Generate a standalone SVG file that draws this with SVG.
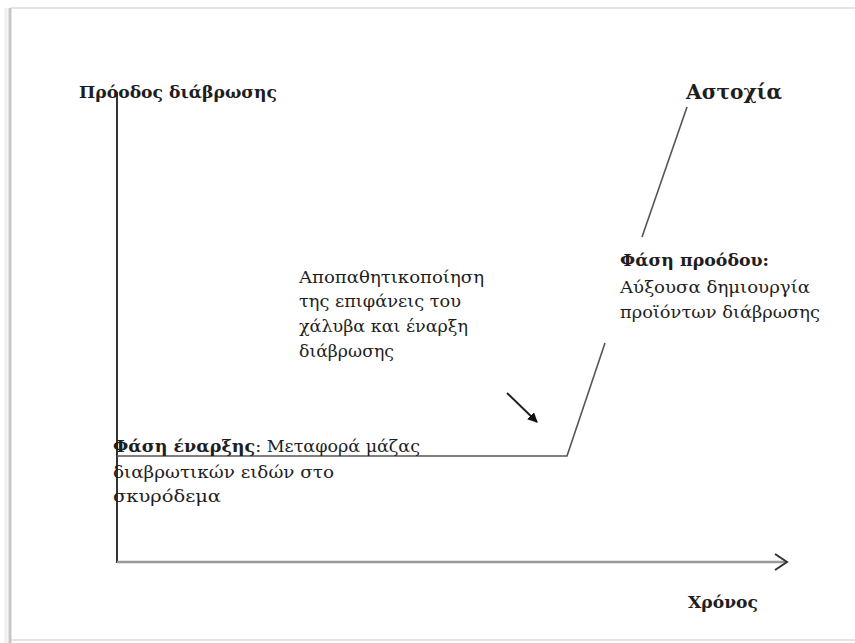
<svg xmlns="http://www.w3.org/2000/svg" width="855" height="643" viewBox="0 0 855 643">
<defs>
<style>
text{font-family:"DejaVu Serif","Liberation Serif",serif;fill:#1e1e1e}
.b{font-weight:bold}
.t{font-size:16px}
.axis{stroke:#333;stroke-width:2;fill:none}
.xaxis{stroke:#999;stroke-width:2.5;fill:none}
.curve{stroke:#555;stroke-width:1.6;fill:none}
</style>
<marker id="ah" viewBox="0 0 10 10" refX="9" refY="5" markerWidth="5" markerHeight="5" orient="auto" markerUnits="strokeWidth">
<path d="M0,0 L10,5 L0,10 z" fill="#111"/>
</marker>
</defs>
<rect x="0" y="0" width="855" height="643" fill="#fff"/>
<g id="frame">
<line x1="10" y1="8" x2="855" y2="8" stroke="#e4e4e4" stroke-width="2"/>
<line x1="10" y1="640" x2="855" y2="640" stroke="#e4e4e4" stroke-width="2"/>
<line x1="10" y1="8" x2="10" y2="643" stroke="#c8c8c8" stroke-width="3"/>
<line x1="6" y1="8" x2="6" y2="643" stroke="#eee" stroke-width="3"/>
</g>
<g id="connectors">
<line class="axis" x1="117" y1="92" x2="117" y2="563"/>
<line class="xaxis" x1="117" y1="562" x2="786" y2="562"/>
<polyline class="xaxis" points="775,554 787,562 775,570" style="stroke:#333;stroke-width:2"/>
<polyline class="curve" points="117,456 567,456 605,343"/>
<line class="curve" x1="642" y1="237" x2="687" y2="107"/>
<line x1="507" y1="393" x2="537" y2="422" stroke="#222" stroke-width="2" marker-end="url(#ah)"/>
</g>
<g id="label-y">
<text class="b" x="79" y="98" font-size="17" textLength="198" lengthAdjust="spacingAndGlyphs">Πρόοδος διάβρωσης</text>
</g>
<g id="label-failure">
<text class="b" x="686" y="99" font-size="21" textLength="96" lengthAdjust="spacingAndGlyphs">Αστοχία</text>
</g>
<g id="label-x">
<text class="b" x="688" y="608" font-size="17" textLength="70" lengthAdjust="spacingAndGlyphs">Χρόνος</text>
</g>
<g id="label-depassivation">
<text class="t" x="299" y="283" textLength="185" lengthAdjust="spacingAndGlyphs">Αποπαθητικοποίηση</text>
<text class="t" x="299" y="307" textLength="162" lengthAdjust="spacingAndGlyphs">της επιφάνεις του</text>
<text class="t" x="299" y="332" textLength="169" lengthAdjust="spacingAndGlyphs">χάλυβα και έναρξη</text>
<text class="t" x="299" y="357" textLength="95" lengthAdjust="spacingAndGlyphs">διάβρωσης</text>
</g>
<g id="label-propagation">
<text class="t b" x="620" y="266" textLength="149" lengthAdjust="spacingAndGlyphs">Φάση προόδου:</text>
<text class="t" x="620" y="293" textLength="190" lengthAdjust="spacingAndGlyphs">Αύξουσα δημιουργία</text>
<text class="t" x="620" y="318" textLength="200" lengthAdjust="spacingAndGlyphs">προϊόντων διάβρωσης</text>
</g>
<g id="label-initiation">
<text class="t" x="113" y="452" textLength="307" lengthAdjust="spacingAndGlyphs"><tspan class="b">Φάση έναρξης</tspan>: Μεταφορά μάζας</text>
<text class="t" x="113" y="478" textLength="221" lengthAdjust="spacingAndGlyphs">διαβρωτικών ειδών στο</text>
<text class="t" x="113" y="502" textLength="108" lengthAdjust="spacingAndGlyphs">σκυρόδεμα</text>
</g>
</svg>
